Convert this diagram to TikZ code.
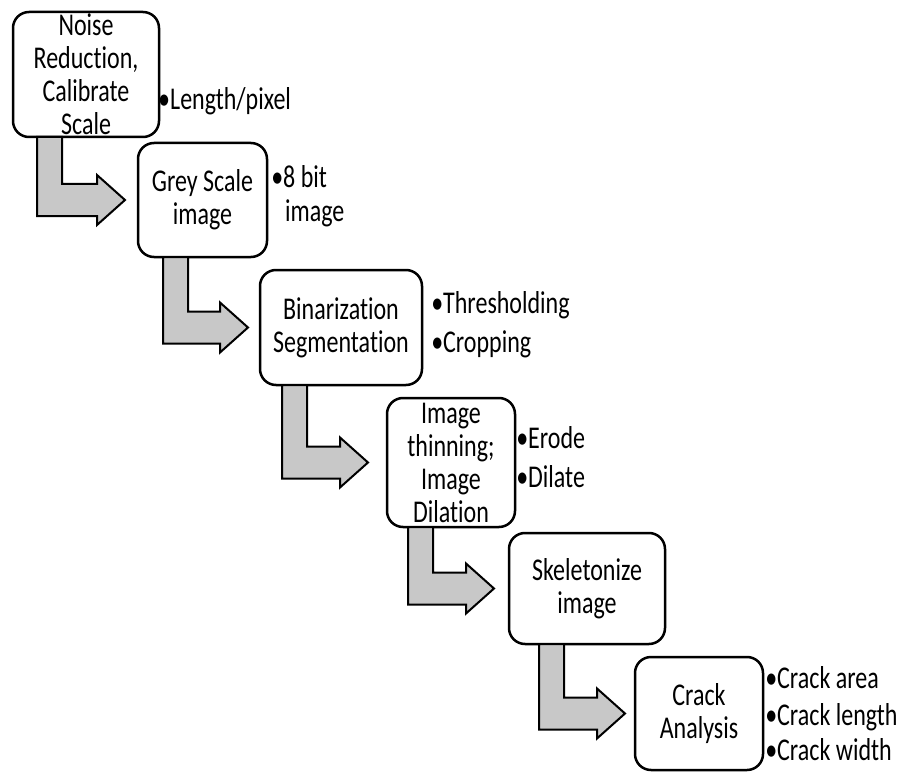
\documentclass[tikz,border=0pt]{standalone}
\usepackage{graphicx}
\usepackage{fontspec}
\setmainfont[Ligatures={NoCommon}]{Carlito}
\usetikzlibrary{calc}
\definecolor{arrowgrey}{RGB}{200,200,200}
\newcommand{\vs}[1]{\scalebox{1}[1.32]{#1}}
\newcommand{\bentarrow}[4]{%
 \coordinate (#1#2sl) at ($(#1.south west)+(#3,0)$);
 \coordinate (#1#2sr) at ($(#1.south west)+(#3+25,0)$);
 \coordinate (#1#2t) at ($(#2.west)+(-#4,0)$);
 \coordinate (#1#2a) at ($(#1#2t)+(0,-16)$);
 \coordinate (#1#2b) at ($(#1#2t)+(0,16)$);
 \coordinate (#1#2c) at ($(#1#2t)+(-28,-16)$);
 \coordinate (#1#2d) at ($(#1#2t)+(-28,-25)$);
 \coordinate (#1#2e) at ($(#1#2t)+(-28,25)$);
 \coordinate (#1#2f) at ($(#1#2t)+(-28,16)$);
 \draw[bigarrow] (#1#2sl) -- (#1#2sr) -- (#1#2sr |- #1#2a) -- (#1#2c) -- (#1#2d) -- (#1#2t) -- (#1#2e) -- (#1#2f) -- (#1#2sl |- #1#2b) -- cycle;
}
\tikzset{
 stepbox/.style={draw, line width=2.5pt, rounded corners=16pt, align=center, inner sep=0pt, outer sep=0pt, fill=white, font=\fontsize{24}{33}\selectfont},
 bigarrow/.style={draw, line width=2pt, fill=arrowgrey, line join=miter},
 note/.style={anchor=base west, inner sep=0pt, font=\fontsize{24}{30}\selectfont}
}
\begin{document}
\begin{tikzpicture}[x=1pt,y=-1pt]
\useasboundingbox[fill=white] (0,0) rectangle (900,773);
\node[stepbox, minimum width=146pt, minimum height=125pt] (b1) at (86,74.5) {\vs{Noise}\\\vs{Reduction,}\\\vs{Calibrate}\\\vs{Scale}};
\node[stepbox, minimum width=129pt, minimum height=114pt] (b2) at (202.5,200) {\vs{Grey Scale}\\\vs{image}};
\node[stepbox, minimum width=162pt, minimum height=115pt] (b3) at (341,327.5) {\vs{Binarization}\\\vs{Segmentation}};
\node[stepbox, minimum width=128pt, minimum height=129pt] (b4) at (451,462.5) {\vs{Image}\\\vs{thinning;}\\\vs{Image}\\\vs{Dilation}};
\node[stepbox, minimum width=156pt, minimum height=111pt] (b5) at (587,588.5) {\vs{Skeletonize}\\\vs{image}};
\node[stepbox, minimum width=128pt, minimum height=113pt] (b6) at (699,713.5) {\vs{Crack}\\\vs{Analysis}};
\bentarrow{b1}{b2}{24}{13}
\bentarrow{b2}{b3}{25}{12}
\bentarrow{b3}{b4}{22}{19}
\bentarrow{b4}{b5}{21}{15}
\bentarrow{b5}{b6}{30}{10}
\node[note] (n1) at (170,110) {\vs{\llap{•}Length/pixel}};
\node[note] (n2a) at (283,188) {\vs{\llap{•}8 bit}};
\node[note] (n2b) at (285,222) {\vs{image}};
\node[note] (n3a) at (443,313) {\vs{\llap{•}Thresholding}};
\node[note] (n3b) at (443,352) {\vs{\llap{•}Cropping}};
\node[note] (n4a) at (528,448) {\vs{\llap{•}Erode}};
\node[note] (n4b) at (528,487) {\vs{\llap{•}Dilate}};
\node[note] (n6a) at (777,688) {\vs{\llap{•}Crack area}};
\node[note] (n6b) at (777,725) {\vs{\llap{•}Crack length}};
\node[note] (n6c) at (777,760) {\vs{\llap{•}Crack width}};
\end{tikzpicture}
\end{document}
